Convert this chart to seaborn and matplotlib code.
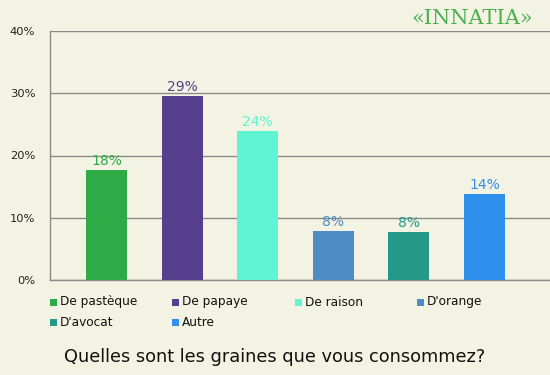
import matplotlib
matplotlib.use("Agg")
import matplotlib.pyplot as plt
import seaborn as sns
import pandas as pd
from matplotlib.patches import Rectangle

categories = ["De pastèque", "De papaye", "De raison", "D'orange", "D'avocat", "Autre"]
values = [17.7, 29.6, 23.9, 7.9, 7.7, 13.8]
labels = ["18%", "29%", "24%", "8%", "8%", "14%"]
colors = ["#2eab47", "#56408e", "#5ff5d4", "#4f8bc4", "#24998a", "#2f8fec"]
yticks = [0, 10, 20, 30, 40]
ytick_labels = ["0%", "10%", "20%", "30%", "40%"]
title = "Quelles sont les graines que vous consommez?"

bg = "#f3f3e3"
sns.set_theme(style="white")
plt.rcParams['font.family'] = ['DejaVu Sans']

W, H = 550, 375
fig = plt.figure(figsize=(5.5, 3.75), dpi=100, facecolor=bg)
ax = fig.add_axes([50/W, (H-280)/H, 500/W, 249/H])
ax.set_facecolor(bg)

df = pd.DataFrame({"cat": categories, "val": values})
sns.barplot(data=df, x="cat", y="val", hue="cat", palette=colors, width=0.54,
            legend=False, ax=ax, saturation=1, linewidth=0, edgecolor="none", zorder=3)

ax.set_ylim(0, 40)
ax.set_xlim(-0.747, 5.866)
ax.set_yticks(yticks)
ax.set_yticklabels(ytick_labels, fontsize=8.25, color="#222222")
ax.yaxis.grid(True, color="#8a8a8a", linewidth=1.0, zorder=0)
ax.set_axisbelow(True)
ax.set_xticks([])
ax.set_xticks([0.5, 1.5, 2.5, 3.5, 4.5], minor=True)
ax.tick_params(axis="x", which="minor", length=4.3, color="#8a8a8a", width=1.0, direction="out")
ax.tick_params(axis="y", length=3.6, color="#8a8a8a", width=1.0, direction="out", pad=7)
ax.set_xlabel("")
ax.set_ylabel("")
for s in ["top", "right"]:
    ax.spines[s].set_visible(False)
for s in ["left", "bottom"]:
    ax.spines[s].set_color("#8a8a8a")
    ax.spines[s].set_linewidth(1.0)

for i, (v, lab, c) in enumerate(zip(values, labels, colors)):
    ax.text(i, v + 0.3, lab, ha="center", va="bottom", color=c, fontsize=10)

# legend, row-major, 4 columns
for i, (cat, c) in enumerate(zip(categories, colors)):
    col, row = i % 4, i // 4
    x0 = 50 + col * 122.3
    yc = 302 + row * 20
    fig.add_artist(Rectangle((x0/W, (H - yc - 3.5)/H), 7/W, 7/H, transform=fig.transFigure,
                             facecolor=c, edgecolor="none"))
    fig.text((x0 + 10)/W, (H - yc)/H, cat, ha="left", va="center", fontsize=8.75, color="#111111")

fig.text(0.5, 1 - 357/H, title, ha="center", va="center", fontsize=12.75, color="#111111")

fig.text(472/W, 1 - 19/H, "«INNATIA»", ha="center", va="center", fontsize=15,
         color="#4caf50", family="DejaVu Serif")

fig.savefig("out.png", dpi=100, facecolor=bg)
